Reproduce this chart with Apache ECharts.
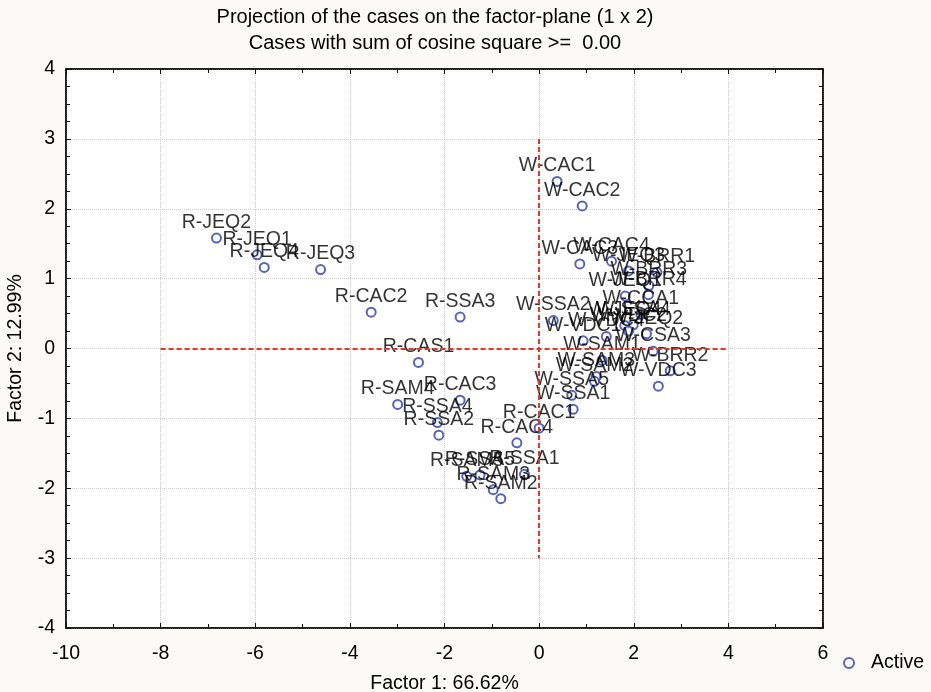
<!DOCTYPE html>
<html>
<head>
<meta charset="utf-8">
<script src="https://cdn.jsdelivr.net/npm/echarts@6/dist/echarts.min.js"></script>
<style>
html,body{margin:0;padding:0;background:#fbfaf6;}
#chart{width:931px;height:692px;}
</style>
</head>
<body>
<div id="chart"></div>
<script>
// Case names and their coordinates on factor 1 / factor 2
const caseNames = [
  "R-JEQ2","R-JEQ1","R-JEQ4","R-JEQ3","R-CAC2","R-SSA3","R-CAS1","R-SAM4","R-CAC3",
  "R-SSA4","R-SSA2","R-CAC4","R-CAC1","R-SSA1","R-SAM5","R-SSA5","R-SAM3","R-SAM2",
  "W-CAC1","W-CAC2","W-CAC3","W-CAC4","W-JEQ3","W-BRR1","W-BRR3","W-JEQ1","W-BRR4",
  "W-CCA1","W-SSA2","W-SSA4","W-JEQ4","W-VDC2","W-JEQ2","W-VDC4","W-VDC1","W-CSA3",
  "W-SAM1","W-BRR2","W-VDC3","W-SAM3","W-SAM2","W-SSA5","W-SSA1"
];
const factor1 = [
  -6.82,-5.96,-5.81,-4.62,-3.55,-1.67,-2.55,-2.99,-1.67,
  -2.15,-2.12,-0.47,0.00,-0.31,-1.53,-1.25,-0.97,-0.81,
  0.38,0.91,0.86,1.53,1.89,2.49,2.32,1.82,2.31,
  2.15,0.30,1.99,1.81,1.89,2.27,1.42,0.93,2.41,
  1.33,2.77,2.52,1.21,1.17,0.69,0.72
];
const factor2 = [
  1.58,1.34,1.16,1.13,0.52,0.45,-0.20,-0.80,-0.74,
  -1.06,-1.24,-1.35,-1.14,-1.80,-1.83,-1.81,-2.02,-2.15,
  2.39,2.04,1.21,1.25,1.11,1.09,0.90,0.75,0.77,
  0.49,0.40,0.34,0.33,0.25,0.21,0.17,0.11,-0.04,
  -0.17,-0.32,-0.54,-0.40,-0.47,-0.67,-0.87
];
const titleLines = [
  "Projection of the cases on the factor-plane (1 x 2)",
  "Cases with sum of cosine square >= \u00a00.00"
];
const xName = "Factor 1: 66.62%";
const yName = "Factor 2: 12.99%";
const seriesName = "Active";

const FONT = "'Liberation Sans', Arial, Helvetica, sans-serif";
const BLUE = '#2b3fa6';
const TXT = '#000000';
const points = caseNames.map((n, i) => ({ name: n, value: [factor1[i], factor2[i]] }));

const chart = echarts.init(document.getElementById('chart'), null, { renderer: 'canvas' });
chart.setOption({
  backgroundColor: '#fbfaf6',
  animation: false,
  textStyle: { fontFamily: FONT },
  graphic: [
    { type: 'text', x: 435, y: 17, style: { text: titleLines[0], font: "20px " + FONT, fill: TXT, align: 'center', verticalAlign: 'middle' } },
    { type: 'text', x: 435, y: 43, style: { text: titleLines[1], font: "20px " + FONT, fill: TXT, align: 'center', verticalAlign: 'middle' } }
  ],
  grid: { left: 66, top: 69, width: 757, height: 559, outerBoundsMode: 'none', containLabel: false,
          show: true, backgroundColor: '#ffffff', borderColor: '#111', borderWidth: 1.5 },
  legend: {
    data: [{ name: seriesName, icon: 'emptyCircle' }],
    left: 838, top: 648, itemWidth: 26, itemHeight: 10,
    itemStyle: { color: BLUE, borderColor: BLUE, borderWidth: 1.4 },
    textStyle: { fontSize: 19.5, color: TXT, fontFamily: FONT, padding: [0, 0, 0, 4] }
  },
  xAxis: [{
    type: 'value', min: -10, max: 6, interval: 2,
    name: xName, nameLocation: 'middle', nameGap: 46,
    nameTextStyle: { fontSize: 19.5, color: TXT, fontFamily: FONT },
    axisLine: { show: true, onZero: false, lineStyle: { color: '#111', width: 1.5 } },
    axisTick: { show: true, inside: true, length: 5, lineStyle: { color: '#111' } },
    minorTick: { show: true, splitNumber: 2, length: 4, lineStyle: { color: '#111' } },
    axisLabel: { fontSize: 19.5, color: TXT, margin: 16, fontFamily: FONT },
    splitLine: { show: true, lineStyle: { color: '#cfcfcf', type: 'dotted', width: 1 } }
  }, {
    type: 'value', position: 'top', min: -10, max: 6, interval: 2,
    axisLine: { show: true, onZero: false, lineStyle: { color: '#111', width: 1.5 } },
    axisTick: { show: true, inside: true, length: 5, lineStyle: { color: '#111' } },
    minorTick: { show: true, splitNumber: 2, length: 4, lineStyle: { color: '#111' } },
    axisLabel: { show: false }, splitLine: { show: false }
  }],
  yAxis: [{
    type: 'value', min: -4, max: 4, interval: 1,
    name: yName, nameLocation: 'middle', nameGap: 40, nameRotate: 90,
    nameTextStyle: { fontSize: 19.5, color: TXT, fontFamily: FONT },
    axisLine: { show: true, onZero: false, lineStyle: { color: '#111', width: 1.5 } },
    axisTick: { show: true, inside: true, length: 5, lineStyle: { color: '#111' } },
    minorTick: { show: true, splitNumber: 4, length: 4, lineStyle: { color: '#111' } },
    axisLabel: { fontSize: 19.5, color: TXT, margin: 11, fontFamily: FONT },
    splitLine: { show: true, lineStyle: { color: '#cfcfcf', type: 'dotted', width: 1 } }
  }, {
    type: 'value', position: 'right', min: -4, max: 4, interval: 1,
    axisLine: { show: true, onZero: false, lineStyle: { color: '#111', width: 1.5 } },
    axisTick: { show: true, inside: true, length: 5, lineStyle: { color: '#111' } },
    minorTick: { show: true, splitNumber: 4, length: 4, lineStyle: { color: '#111' } },
    axisLabel: { show: false }, splitLine: { show: false }
  }],
  series: [{
    name: seriesName, type: 'scatter', xAxisIndex: 0, yAxisIndex: 0,
    symbol: 'emptyCircle', symbolSize: 9,
    itemStyle: { color: BLUE, borderColor: BLUE, borderWidth: 1.4 },
    label: {
      show: true, position: 'top', distance: 0, formatter: p => p.name,
      fontSize: 19.5, color: TXT, fontFamily: FONT
    },
    labelLayout: { hideOverlap: false },
    emphasis: { disabled: true },
    data: points,
    markLine: {
      silent: true, symbol: ['none', 'none'], label: { show: false },
      lineStyle: { color: '#e8322a', type: [5, 3], width: 2 },
      data: [
        [{ coord: [0, 3] }, { coord: [0, -3] }],
        [{ coord: [-8, 0] }, { coord: [4, 0] }]
      ]
    }
  }]
});
</script>
</body>
</html>
